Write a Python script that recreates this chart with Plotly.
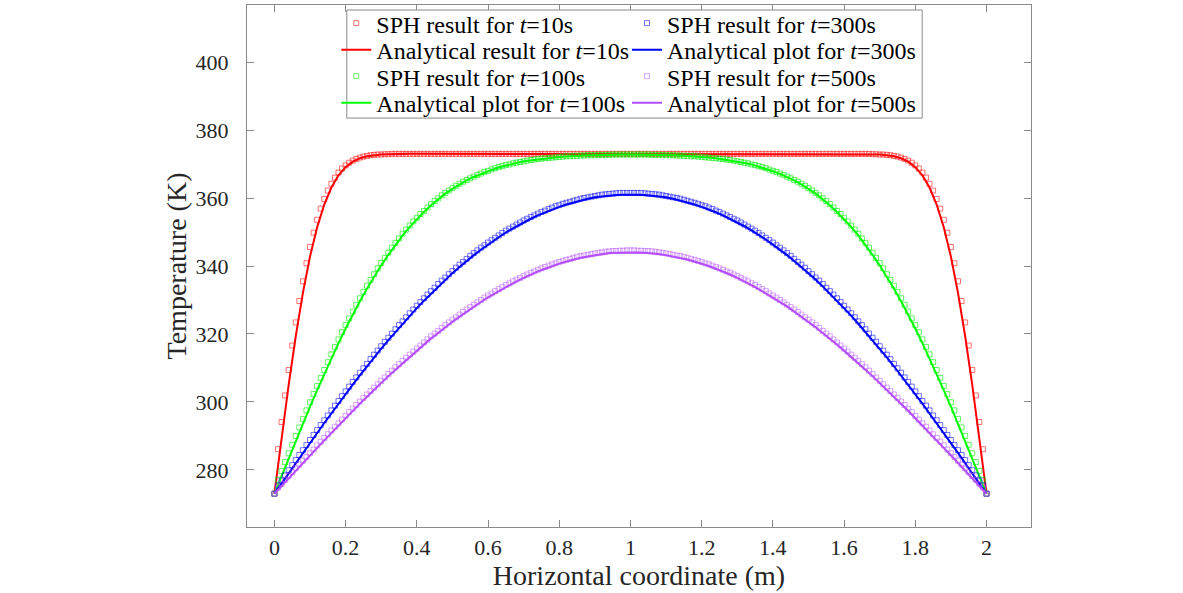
import numpy as np
import plotly.graph_objects as go

# SPH particles sit every 0.01 m, analytical curves are read every 0.02 m
x_sph = np.round(np.arange(201) * 0.01, 2)
x_line = np.round(np.arange(101) * 0.02, 2)

# SPH result, t = 10 s
sph_10 = ([273.0, 286.1, 294.1, 301.9, 309.4, 316.6, 323.4, 329.7, 335.5, 340.8,
           345.6, 349.8, 353.6, 356.9, 359.7, 362.2, 364.2, 366.0, 367.5, 368.7,
           369.6, 370.4, 371.0, 371.5, 371.9, 372.2, 372.4, 372.6, 372.7, 372.8,
           372.8, 372.9, 372.9]
          + [373.0] * 135
          + [372.9, 372.9, 372.8, 372.8, 372.7, 372.6, 372.4, 372.2, 371.9, 371.5,
             371.0, 370.4, 369.6, 368.7, 367.5, 366.0, 364.2, 362.2, 359.7, 356.9,
             353.6, 349.8, 345.6, 340.8, 335.5, 329.7, 323.4, 316.6, 309.4, 301.9,
             294.1, 286.1, 273.0])

# SPH result, t = 100 s
sph_100 = [273.0, 277.1, 279.7, 282.3, 284.9, 287.4, 290.0, 292.5, 295.0, 297.5,
           299.9, 302.3, 304.7, 307.1, 309.4, 311.7, 314.0, 316.2, 318.4, 320.5,
           322.6, 324.6, 326.6, 328.6, 330.5, 332.4, 334.2, 335.9, 337.6, 339.3,
           340.9, 342.4, 343.9, 345.4, 346.8, 348.1, 349.5, 350.7, 351.9, 353.1,
           354.2, 355.3, 356.2, 357.2, 358.2, 359.1, 359.9, 360.8, 361.5, 362.2,
           362.9, 363.6, 364.2, 364.8, 365.3, 365.8, 366.3, 366.8, 367.2, 367.7,
           368.0, 368.4, 368.8, 369.1, 369.4, 369.7, 369.9, 370.2, 370.4, 370.6,
           370.8, 371.0, 371.2, 371.3, 371.5, 371.6, 371.7, 371.8, 371.9, 372.0,
           372.1, 372.2, 372.3, 372.3, 372.4, 372.4, 372.5, 372.5, 372.6, 372.6,
           372.6, 372.7, 372.7, 372.7, 372.7, 372.8, 372.8, 372.8, 372.8, 372.8,
           372.8, 372.8, 372.8, 372.8, 372.8, 372.8, 372.7, 372.7, 372.7, 372.7,
           372.6, 372.6, 372.6, 372.5, 372.5, 372.4, 372.4, 372.3, 372.3, 372.2,
           372.1, 372.0, 371.9, 371.8, 371.7, 371.6, 371.5, 371.3, 371.2, 371.0,
           370.8, 370.6, 370.4, 370.2, 369.9, 369.7, 369.4, 369.1, 368.8, 368.4,
           368.0, 367.7, 367.2, 366.8, 366.3, 365.8, 365.3, 364.8, 364.2, 363.6,
           362.9, 362.2, 361.5, 360.8, 359.9, 359.1, 358.2, 357.2, 356.2, 355.3,
           354.2, 353.1, 351.9, 350.7, 349.5, 348.1, 346.8, 345.4, 343.9, 342.4,
           340.9, 339.3, 337.6, 335.9, 334.2, 332.4, 330.5, 328.6, 326.6, 324.6,
           322.6, 320.5, 318.4, 316.2, 314.0, 311.7, 309.4, 307.1, 304.7, 302.3,
           299.9, 297.5, 295.0, 292.5, 290.0, 287.4, 284.9, 282.3, 279.7, 277.1,
           273.0]

# SPH result, t = 300 s
sph_300 = [273.0, 275.4, 276.9, 278.4, 279.9, 281.4, 282.9, 284.4, 285.8, 287.3,
           288.8, 290.3, 291.7, 293.2, 294.6, 296.0, 297.5, 298.9, 300.3, 301.7,
           303.1, 304.5, 305.9, 307.2, 308.6, 309.9, 311.2, 312.6, 313.9, 315.1,
           316.4, 317.7, 318.9, 320.1, 321.4, 322.6, 323.7, 324.9, 326.1, 327.2,
           328.3, 329.4, 330.5, 331.6, 332.6, 333.6, 334.7, 335.7, 336.6, 337.6,
           338.5, 339.5, 340.4, 341.2, 342.1, 343.0, 343.8, 344.6, 345.4, 346.1,
           346.9, 347.6, 348.3, 349.0, 349.7, 350.4, 351.0, 351.6, 352.2, 352.8,
           353.4, 353.9, 354.4, 354.9, 355.4, 355.9, 356.3, 356.8, 357.2, 357.6,
           357.9, 358.3, 358.6, 358.9, 359.2, 359.5, 359.8, 360.0, 360.2, 360.4,
           360.6, 360.8, 361.0, 361.1, 361.2, 361.3, 361.4, 361.5, 361.5, 361.5,
           361.5, 361.5, 361.5, 361.5, 361.4, 361.3, 361.2, 361.1, 361.0, 360.8,
           360.6, 360.4, 360.2, 360.0, 359.8, 359.5, 359.2, 358.9, 358.6, 358.3,
           357.9, 357.6, 357.2, 356.8, 356.3, 355.9, 355.4, 354.9, 354.4, 353.9,
           353.4, 352.8, 352.2, 351.6, 351.0, 350.4, 349.7, 349.0, 348.3, 347.6,
           346.9, 346.1, 345.4, 344.6, 343.8, 343.0, 342.1, 341.2, 340.4, 339.5,
           338.5, 337.6, 336.6, 335.7, 334.7, 333.6, 332.6, 331.6, 330.5, 329.4,
           328.3, 327.2, 326.1, 324.9, 323.7, 322.6, 321.4, 320.1, 318.9, 317.7,
           316.4, 315.1, 313.9, 312.6, 311.2, 309.9, 308.6, 307.2, 305.9, 304.5,
           303.1, 301.7, 300.3, 298.9, 297.5, 296.0, 294.6, 293.2, 291.7, 290.3,
           288.8, 287.3, 285.8, 284.4, 282.9, 281.4, 279.9, 278.4, 276.9, 275.4,
           273.0]

# SPH result, t = 500 s
sph_500 = [273.0, 274.8, 275.9, 277.1, 278.2, 279.3, 280.5, 281.6, 282.7, 283.8,
           284.9, 286.0, 287.2, 288.3, 289.4, 290.5, 291.6, 292.7, 293.7, 294.8,
           295.9, 297.0, 298.0, 299.1, 300.1, 301.2, 302.2, 303.2, 304.2, 305.2,
           306.2, 307.2, 308.2, 309.2, 310.2, 311.1, 312.1, 313.0, 313.9, 314.8,
           315.7, 316.6, 317.5, 318.4, 319.3, 320.1, 320.9, 321.8, 322.6, 323.4,
           324.2, 324.9, 325.7, 326.5, 327.2, 327.9, 328.6, 329.3, 330.0, 330.7,
           331.3, 331.9, 332.6, 333.2, 333.8, 334.4, 334.9, 335.5, 336.0, 336.5,
           337.0, 337.5, 338.0, 338.4, 338.9, 339.3, 339.7, 340.1, 340.5, 340.8,
           341.2, 341.5, 341.8, 342.1, 342.4, 342.7, 342.9, 343.1, 343.3, 343.5,
           343.7, 343.9, 344.0, 344.2, 344.3, 344.4, 344.4, 344.5, 344.5, 344.6,
           344.6, 344.6, 344.5, 344.5, 344.4, 344.4, 344.3, 344.2, 344.0, 343.9,
           343.7, 343.5, 343.3, 343.1, 342.9, 342.7, 342.4, 342.1, 341.8, 341.5,
           341.2, 340.8, 340.5, 340.1, 339.7, 339.3, 338.9, 338.4, 338.0, 337.5,
           337.0, 336.5, 336.0, 335.5, 334.9, 334.4, 333.8, 333.2, 332.6, 331.9,
           331.3, 330.7, 330.0, 329.3, 328.6, 327.9, 327.2, 326.5, 325.7, 324.9,
           324.2, 323.4, 322.6, 321.8, 320.9, 320.1, 319.3, 318.4, 317.5, 316.6,
           315.7, 314.8, 313.9, 313.0, 312.1, 311.1, 310.2, 309.2, 308.2, 307.2,
           306.2, 305.2, 304.2, 303.2, 302.2, 301.2, 300.1, 299.1, 298.0, 297.0,
           295.9, 294.8, 293.7, 292.7, 291.6, 290.5, 289.4, 288.3, 287.2, 286.0,
           284.9, 283.8, 282.7, 281.6, 280.5, 279.3, 278.2, 277.1, 275.9, 274.8,
           273.0]

# analytical curves
ana_10 = ([273.0, 289.4, 305.0, 319.4, 332.1, 342.8, 351.4, 358.1, 363.1, 366.7,
           369.1, 370.7, 371.7, 372.3, 372.6, 372.8, 372.9]
          + [373.0] * 67
          + [372.9, 372.8, 372.6, 372.3, 371.7, 370.7, 369.1, 366.7, 363.1, 358.1,
             351.4, 342.8, 332.1, 319.4, 305.0, 289.4, 273.0])

ana_100 = [273.0, 278.2, 283.4, 288.5, 293.6, 298.6, 303.5, 308.2, 312.8, 317.3,
           321.6, 325.7, 329.6, 333.4, 336.9, 340.2, 343.3, 346.3, 349.0, 351.5,
           353.8, 355.9, 357.9, 359.6, 361.3, 362.7, 364.0, 365.2, 366.2, 367.1,
           367.9, 368.7, 369.3, 369.9, 370.3, 370.8, 371.1, 371.4, 371.7, 371.9,
           372.1, 372.2, 372.4, 372.5, 372.6, 372.6, 372.7, 372.7, 372.8, 372.8,
           372.8, 372.8, 372.8, 372.7, 372.7, 372.6, 372.6, 372.5, 372.4, 372.2,
           372.1, 371.9, 371.7, 371.4, 371.1, 370.8, 370.3, 369.9, 369.3, 368.7,
           367.9, 367.1, 366.2, 365.2, 364.0, 362.7, 361.3, 359.6, 357.9, 355.9,
           353.8, 351.5, 349.0, 346.3, 343.3, 340.2, 336.9, 333.4, 329.6, 325.7,
           321.6, 317.3, 312.8, 308.2, 303.5, 298.6, 293.6, 288.5, 283.4, 278.2,
           273.0]

ana_300 = [273.0, 276.0, 279.0, 282.0, 285.0, 287.9, 290.8, 293.8, 296.6, 299.5,
           302.3, 305.1, 307.8, 310.5, 313.1, 315.7, 318.2, 320.6, 323.0, 325.4,
           327.6, 329.8, 331.9, 334.0, 336.0, 337.9, 339.7, 341.5, 343.2, 344.8,
           346.3, 347.8, 349.2, 350.5, 351.7, 352.8, 353.9, 354.9, 355.8, 356.7,
           357.4, 358.1, 358.7, 359.3, 359.8, 360.2, 360.5, 360.7, 360.9, 361.0,
           361.1, 361.0, 360.9, 360.7, 360.5, 360.2, 359.8, 359.3, 358.7, 358.1,
           357.4, 356.7, 355.8, 354.9, 353.9, 352.8, 351.7, 350.5, 349.2, 347.8,
           346.3, 344.8, 343.2, 341.5, 339.7, 337.9, 336.0, 334.0, 331.9, 329.8,
           327.6, 325.4, 323.0, 320.6, 318.2, 315.7, 313.1, 310.5, 307.8, 305.1,
           302.3, 299.5, 296.6, 293.8, 290.8, 287.9, 285.0, 282.0, 279.0, 276.0,
           273.0]

ana_500 = [273.0, 275.3, 277.5, 279.8, 282.0, 284.3, 286.5, 288.7, 290.9, 293.1,
           295.2, 297.4, 299.5, 301.5, 303.6, 305.6, 307.6, 309.5, 311.4, 313.3,
           315.1, 316.9, 318.7, 320.3, 322.0, 323.6, 325.1, 326.6, 328.1, 329.4,
           330.8, 332.0, 333.2, 334.4, 335.5, 336.5, 337.5, 338.4, 339.2, 340.0,
           340.7, 341.3, 341.9, 342.4, 342.8, 343.2, 343.5, 343.8, 343.9, 344.0,
           344.1, 344.0, 343.9, 343.8, 343.5, 343.2, 342.8, 342.4, 341.9, 341.3,
           340.7, 340.0, 339.2, 338.4, 337.5, 336.5, 335.5, 334.4, 333.2, 332.0,
           330.8, 329.4, 328.1, 326.6, 325.1, 323.6, 322.0, 320.3, 318.7, 316.9,
           315.1, 313.3, 311.4, 309.5, 307.6, 305.6, 303.6, 301.5, 299.5, 297.4,
           295.2, 293.1, 290.9, 288.7, 286.5, 284.3, 282.0, 279.8, 277.5, 275.3,
           273.0]

x_ticks = [0, 0.2, 0.4, 0.6, 0.8, 1, 1.2, 1.4, 1.6, 1.8, 2]
x_ticktext = ["0", "0.2", "0.4", "0.6", "0.8", "1", "1.2", "1.4", "1.6", "1.8", "2"]
y_ticks = [280, 300, 320, 340, 360, 380, 400]

FONT = "Liberation Serif"
AXIS_GRAY = "#8a8a8a"
TXT = "#262626"

series = [
    # (label, x, y, kind, colour)
    ("SPH result for <i>t</i>=10s", x_sph, sph_10, "sph", "rgba(255,0,0,0.55)"),
    ("Analytical result for <i>t</i>=10s", x_line, ana_10, "line", "#ff0000"),
    ("SPH result for <i>t</i>=100s", x_sph, sph_100, "sph", "rgba(0,235,0,0.6)"),
    ("Analytical plot for <i>t</i>=100s", x_line, ana_100, "line", "#00ff00"),
    ("SPH result for <i>t</i>=300s", x_sph, sph_300, "sph", "rgba(0,0,255,0.55)"),
    ("Analytical plot for <i>t</i>=300s", x_line, ana_300, "line", "#0000ff"),
    ("SPH result for <i>t</i>=500s", x_sph, sph_500, "sph", "rgba(179,77,255,0.5)"),
    ("Analytical plot for <i>t</i>=500s", x_line, ana_500, "line", "#b34dff"),
]

# one single-entry legend per item so rows can sit as tight as in the original
leg_x = [0.1139, 0.4847]
leg_y = [0.9645, 0.9137, 0.8629, 0.8122]

fig = go.Figure()
legends = {}
for i, (name, xs, ys, kind, col) in enumerate(series):
    key = "legend" if i == 0 else f"legend{i + 1}"
    legends[key] = dict(
        x=leg_x[i // 4], y=leg_y[i % 4], xanchor="left", yanchor="middle",
        bgcolor="rgba(0,0,0,0)", borderwidth=0, itemwidth=30,
        font=dict(family=FONT, size=24, color="black"),
    )
    if kind == "sph":
        fig.add_trace(go.Scatter(
            x=xs, y=ys, mode="markers", name=name, legend=key, showlegend=True,
            marker=dict(symbol="square-open", size=5, color=col, line=dict(width=1, color=col)),
        ))
    else:
        fig.add_trace(go.Scatter(
            x=xs, y=ys, mode="lines", name=name, legend=key, showlegend=True,
            line=dict(color=col, width=2),
        ))

fig.update_layout(
    width=1183, height=593,
    margin=dict(l=247, r=152, t=5, b=66, autoexpand=False),
    paper_bgcolor="white",
    plot_bgcolor="white",
    showlegend=True,
    font=dict(family=FONT, color=TXT),
    shapes=[dict(
        type="rect", xref="paper", yref="paper",
        x0=0.1273, x1=0.8612, y0=0.7834, y1=0.9904,
        line=dict(color=AXIS_GRAY, width=1), fillcolor="white", layer="above",
    )],
    **legends,
)

fig.update_xaxes(
    range=[-0.077, 2.125],
    tickvals=x_ticks, ticktext=x_ticktext,
    ticks="inside", ticklen=7, tickcolor=AXIS_GRAY, tickwidth=1,
    showline=True, linecolor=AXIS_GRAY, linewidth=1, mirror="ticks",
    showgrid=False, zeroline=False,
    tickfont=dict(family=FONT, size=22, color=TXT),
    ticklabelstandoff=1,
    title=dict(text="Horizontal coordinate (m)", font=dict(family=FONT, size=28, color=TXT), standoff=5),
)
fig.update_yaxes(
    range=[263.2, 416.8],
    tickvals=y_ticks,
    ticks="inside", ticklen=7, tickcolor=AXIS_GRAY, tickwidth=1,
    showline=True, linecolor=AXIS_GRAY, linewidth=1, mirror="ticks",
    showgrid=False, zeroline=False,
    tickfont=dict(family=FONT, size=22, color=TXT),
    ticklabelstandoff=13,
    title=dict(text="Temperature (K)", font=dict(family=FONT, size=28, color=TXT), standoff=0),
)

# the page's default body margin would push the figure off its fixed spot
fig.write_html("out.html", config={"displayModeBar": False},
               post_script="document.body.style.margin = '0px';")
